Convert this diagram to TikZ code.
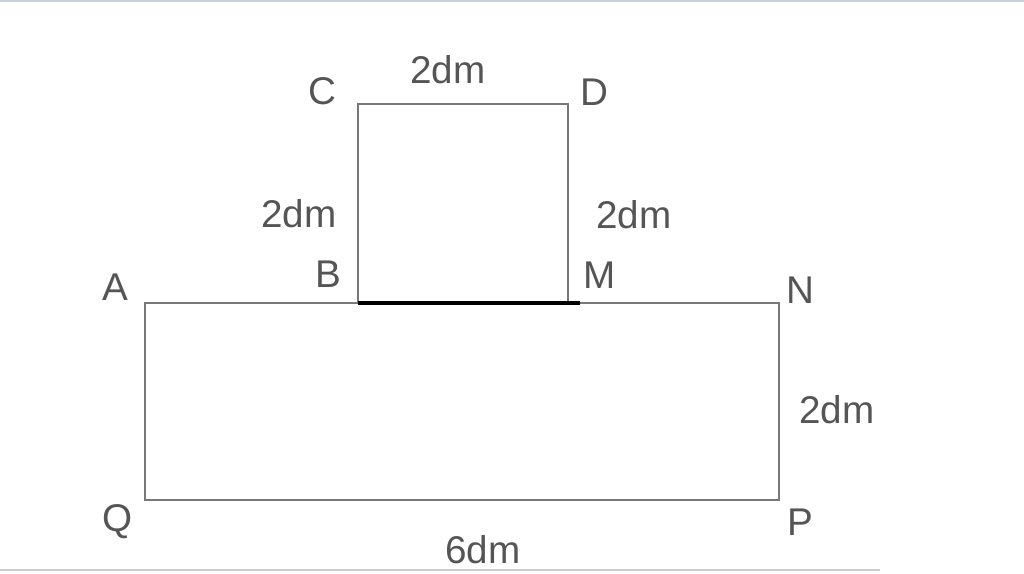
\documentclass[tikz,border=0pt]{standalone}
\usepackage{fontspec}
\setmainfont{Liberation Sans}
\usetikzlibrary{calc,positioning}

\definecolor{linegray}{RGB}{120,120,120}
\definecolor{textgray}{RGB}{85,85,85}
\definecolor{edgeblue}{RGB}{200,208,222}

\begin{document}
\begin{tikzpicture}[x=0.02cm, y=-0.02cm, every node/.style={text=textgray, font=\fontsize{22}{26}\selectfont, inner sep=0pt}]
  \useasboundingbox (0,0) rectangle (1024,574);
  % scan edges
  \draw[edgeblue, line width=1.2pt] (0,1) -- (1024,1);
  \draw[gray!40, line width=0.8pt] (0,570) -- (880,570);

  % Define points
  \coordinate (A) at (145,303);
  \coordinate (N) at (779,303);
  \coordinate (P) at (779,500);
  \coordinate (Q) at (145,500);
  \coordinate (B) at (358,303);
  \coordinate (C) at (358,104);
  \coordinate (D) at (568,104);
  \coordinate (M) at (568,303);
  \coordinate (Mend) at ($(M)+(12,0)$);

  % Draw figure
  \draw[linegray, line width=1.6pt, line join=miter] (A) -- (N) -- (P) -- (Q) -- cycle;
  \draw[linegray, line width=1.6pt, line join=miter] (B) -- (C) -- (D) -- (M);
  \draw[black, line width=2.8pt] (B) -- (Mend);

  % Label points
  \node (lA) at (115,287) {A};
  \node (lB) at (328,274) {B};
  \node (lC) at (322,91) {C};
  \node (lD) at (594,92) {D};
  \node (lM) at (600,275) {M};
  \node (lN) at (800,290) {N};
  \node (lP) at (800,522) {P};
  \node (lQ) at (118,522) {Q};

  % Label sides
  \node (sCD) at (448,70) {2dm};
  \node (sBC) at (299,214) {2dm};
  \node (sDM) at (634,215) {2dm};
  \node (sNP) at (837,410) {2dm};
  \node (sQP) at (483,550) {6dm};
\end{tikzpicture}
\end{document}
